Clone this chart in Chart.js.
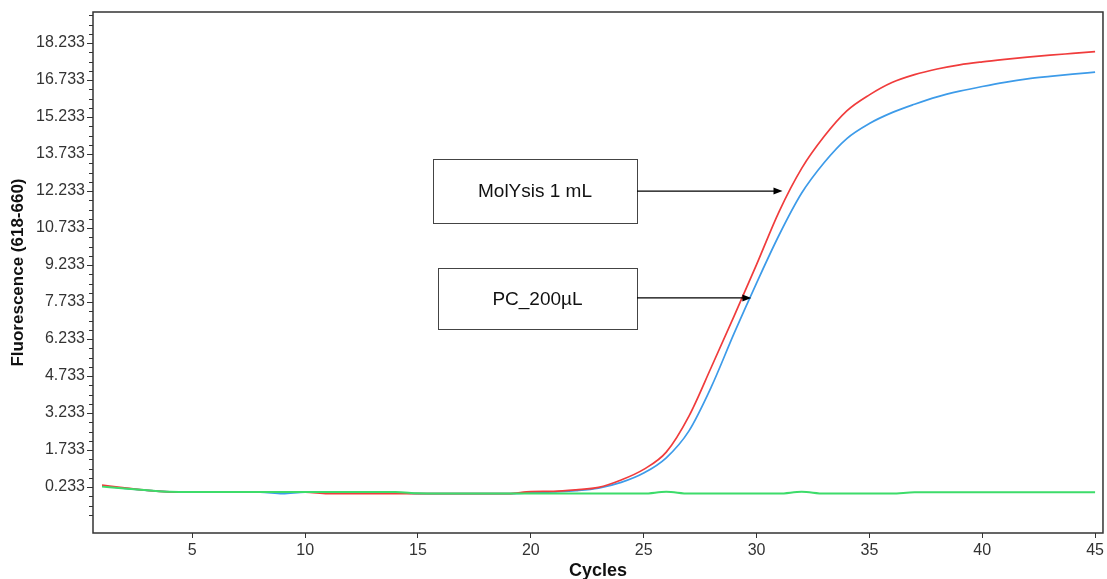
<!DOCTYPE html>
<html><head><meta charset="utf-8">
<script src="https://cdn.jsdelivr.net/npm/chart.js@4.4.1/dist/chart.umd.min.js"></script>
<style>html,body{margin:0;padding:0;background:#fff;}#wrap{width:1107px;height:579px;}</style>
</head><body><div id="wrap"><canvas id="c" width="1107" height="579"></canvas></div>
<script>
// ---- data ----
const cycles = [1,2,3,4,5,6,7,8,9,10,11,12,13,14,15,16,17,18,19,20,21,22,23,24,25,26,27,28,29,30,31,32,33,34,35,36,37,38,39,40,41,42,43,44,45];
const molysis1mL = [0.31,0.20,0.10,0.04,0.03,0.03,0.03,0.03,0.03,0.03,-0.03,-0.03,-0.03,-0.03,-0.03,-0.03,-0.03,-0.03,-0.03,0.05,0.06,0.12,0.22,0.52,0.95,1.65,3.10,5.10,7.15,9.25,11.40,13.15,14.45,15.48,16.13,16.63,16.95,17.18,17.35,17.47,17.57,17.66,17.74,17.81,17.88];
const pc200uL = [0.28,0.18,0.10,0.04,0.03,0.03,0.03,0.03,-0.03,0.03,0.03,0.00,0.00,0.00,-0.03,-0.03,-0.03,-0.03,-0.03,0.00,0.04,0.09,0.19,0.42,0.80,1.42,2.50,4.30,6.45,8.50,10.45,12.15,13.39,14.36,14.97,15.41,15.75,16.05,16.28,16.47,16.64,16.78,16.88,16.97,17.05];
const negative = [0.25,0.17,0.10,0.04,0.03,0.03,0.03,0.03,0.03,0.03,0.03,0.03,0.03,0.03,-0.02,-0.03,-0.03,-0.03,-0.03,-0.03,-0.03,-0.03,-0.03,-0.03,-0.03,0.04,-0.03,-0.03,-0.03,-0.03,-0.03,0.04,-0.03,-0.03,-0.03,-0.03,0.02,0.02,0.02,0.02,0.02,0.02,0.02,0.02,0.02];
const xTicks = [5,10,15,20,25,30,35,40,45];
const yTickLabels = ['0.233','1.733','3.233','4.733','6.233','7.733','9.233','10.733','12.233','13.733','15.233','16.733','18.233'];
const yTicks = yTickLabels.map(Number);
const yMinorStep = 0.375;
const callouts = [
  {text:'MolYsis 1 mL', box:[433,159,204,64], target:{x:31.15, y:12.23}},
  {text:'PC_200\u00B5L', box:[438,268,199,61], target:{x:29.77, y:7.90}}
];

const FONT = "'Liberation Sans', Arial, sans-serif";
const AX = '#333';

const pts = arr => cycles.map((c,i)=>({x:c, y:arr[i]}));

const framePlugin = {
  id:'frame',
  afterDraw(chart){
    const {ctx, chartArea:a, scales} = chart;
    ctx.save();
    ctx.strokeStyle = AX; ctx.lineWidth = 1.5;
    ctx.strokeRect(a.left, a.top, a.right-a.left, a.bottom-a.top);
    // minor y ticks
    const y = scales.y;
    ctx.lineWidth = 1;
    const base = yTicks[0];
    for (let k=-10;k<100;k++){
      const v = base + k*yMinorStep;
      if (v < y.min || v > y.max) continue;
      if (Math.abs(((v-base)/1.5) - Math.round((v-base)/1.5)) < 1e-6) continue;
      const py = Math.round(y.getPixelForValue(v))+0.5;
      ctx.beginPath(); ctx.moveTo(a.left-4, py); ctx.lineTo(a.left, py); ctx.stroke();
    }
    // callouts
    callouts.forEach(c=>{
      const [bx,by,bw,bh] = c.box;
      ctx.fillStyle='#fff';
      ctx.fillRect(bx,by,bw,bh);
      ctx.strokeStyle='#444'; ctx.lineWidth=1;
      ctx.strokeRect(bx+0.5,by+0.5,bw,bh);
      ctx.fillStyle='#111';
      ctx.font = "19px " + FONT;
      ctx.textAlign='center'; ctx.textBaseline='middle';
      ctx.fillText(c.text, bx+bw/2, by+bh/2+1);
      const tx = scales.x.getPixelForValue(c.target.x);
      const ty = scales.y.getPixelForValue(c.target.y);
      ctx.strokeStyle='#000'; ctx.lineWidth=1.3;
      ctx.beginPath(); ctx.moveTo(bx+bw, ty); ctx.lineTo(tx-7, ty); ctx.stroke();
      ctx.fillStyle='#000';
      ctx.beginPath(); ctx.moveTo(tx, ty); ctx.lineTo(tx-9, ty-3.5); ctx.lineTo(tx-9, ty+3.5); ctx.closePath(); ctx.fill();
    });
    ctx.restore();
  }
};

const common = {pointRadius:0, borderWidth:1.7, fill:false, cubicInterpolationMode:'monotone'};

new Chart(document.getElementById('c'), {
  type:'line',
  data:{
    datasets:[
      {...common, label:'Negative', data:pts(negative), borderColor:'#3ddc6a', borderWidth:2, order:0},
      {...common, label:'MolYsis 1 mL', data:pts(molysis1mL), borderColor:'#f03c3c', order:1},
      {...common, label:'PC_200\u00B5L', data:pts(pc200uL), borderColor:'#3d9be9', order:2}
    ]
  },
  options:{
    responsive:false, animation:false, devicePixelRatio:1,
    layout:{padding:{top:12, right:3, left:0, bottom:0}},
    plugins:{legend:{display:false}, tooltip:{enabled:false}},
    scales:{
      x:{type:'linear', min:0.6, max:45.35,
        afterBuildTicks: s => { s.ticks = xTicks.map(v=>({value:v})); },
        ticks:{callback:v=>String(v), font:{family:FONT, size:16}, color:AX, padding:3, maxRotation:0, autoSkip:false},
        grid:{drawOnChartArea:false, tickLength:5, color:AX},
        border:{display:false},
        title:{display:true, text:'Cycles', font:{family:FONT, size:18, weight:'bold', lineHeight:0.9}, color:'#111', padding:{top:0,bottom:0}},
        afterFit: s => { s.height = 46; }
      },
      y:{type:'linear', min:-1.63, max:19.49,
        afterBuildTicks: s => { s.ticks = yTicks.map(v=>({value:v})); },
        ticks:{callback:(v,i)=>yTickLabels[i], font:{family:FONT, size:16}, color:AX, padding:2, autoSkip:false},
        grid:{drawOnChartArea:false, tickLength:6, color:AX},
        border:{display:false},
        title:{display:true, text:'Fluorescence (618-660)', font:{family:FONT, size:17, weight:'bold'}, color:'#111', padding:{top:8,bottom:0}},
        afterFit: s => { s.width = 93; }
      }
    }
  },
  plugins:[framePlugin]
});
</script></body></html>
